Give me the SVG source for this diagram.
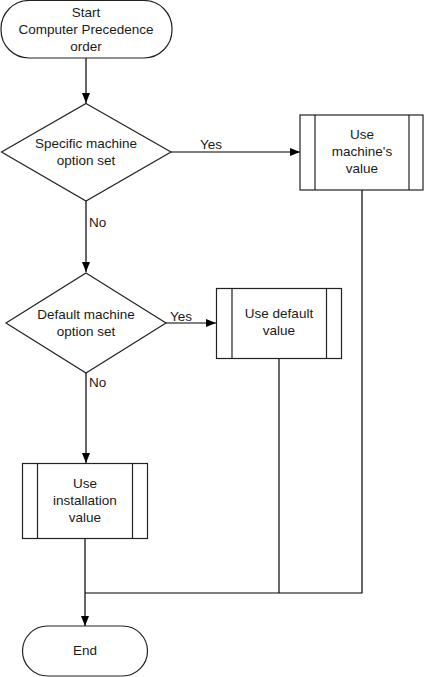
<svg xmlns="http://www.w3.org/2000/svg" width="426" height="677" viewBox="0 0 426 677">
<defs>
<style>
.s{fill:#fff;stroke:#222;stroke-width:1.2}
.l{fill:none;stroke:#000;stroke-width:1.2}
text{font-family:"Liberation Sans",Arial,sans-serif;font-size:13.5px;fill:#1a1a1a;text-anchor:middle}
.lb{text-anchor:start}
</style>
<marker id="a" viewBox="0 0 10 10" refX="10" refY="5" markerWidth="10" markerHeight="10" markerUnits="userSpaceOnUse" orient="auto">
<path d="M0,1 L10,5 L0,9 z" fill="#000"/>
</marker>
</defs>
<g id="connectors">
<path class="l" d="M86,58 V103" marker-end="url(#a)"/>
<path class="l" d="M171,152 H300" marker-end="url(#a)"/>
<text class="lb" x="200" y="149">Yes</text>
<path class="l" d="M86,201 V272" marker-end="url(#a)"/>
<text class="lb" x="89" y="227">No</text>
<path class="l" d="M166,323 H216" marker-end="url(#a)"/>
<text class="lb" x="170" y="321">Yes</text>
<path class="l" d="M86,373 V463" marker-end="url(#a)"/>
<text class="lb" x="89" y="387">No</text>
<path class="l" d="M85,538 V626" marker-end="url(#a)"/>
<path class="l" d="M362,190 V593 H85"/>
<path class="l" d="M279,358 V593"/>
</g>
<g id="start">
<rect class="s" x="1" y="0.5" width="171" height="57.5" rx="28" ry="28"/>
<text x="86" y="17">Start</text>
<text x="86" y="34">Computer Precedence</text>
<text x="86" y="51">order</text>
</g>
<g id="decision1">
<polygon class="s" points="86,103.5 171,152 86,201 1.5,152"/>
<text x="86" y="148">Specific machine</text>
<text x="86" y="165">option set</text>
</g>
<g id="machineValue">
<rect class="s" x="300" y="115" width="123" height="75"/>
<line class="s" x1="315" y1="115" x2="315" y2="190"/>
<line class="s" x1="409" y1="115" x2="409" y2="190"/>
<text x="362" y="139">Use</text>
<text x="362" y="156">machine's</text>
<text x="362" y="173">value</text>
</g>
<g id="decision2">
<polygon class="s" points="86,273 166,323 86,373 6,323"/>
<text x="86" y="319">Default machine</text>
<text x="86" y="336">option set</text>
</g>
<g id="defaultValue">
<rect class="s" x="216.5" y="288.5" width="125" height="70"/>
<line class="s" x1="232" y1="288.5" x2="232" y2="358.5"/>
<line class="s" x1="326.5" y1="288.5" x2="326.5" y2="358.5"/>
<text x="279" y="318">Use default</text>
<text x="279" y="335">value</text>
</g>
<g id="installationValue">
<rect class="s" x="22.5" y="463.5" width="125" height="75"/>
<line class="s" x1="37.5" y1="463.5" x2="37.5" y2="538.5"/>
<line class="s" x1="132.5" y1="463.5" x2="132.5" y2="538.5"/>
<text x="85" y="488">Use</text>
<text x="85" y="505">installation</text>
<text x="85" y="522">value</text>
</g>
<g id="end">
<rect class="s" x="22.5" y="626" width="125" height="50" rx="25" ry="25"/>
<text x="85" y="655">End</text>
</g>
</svg>
